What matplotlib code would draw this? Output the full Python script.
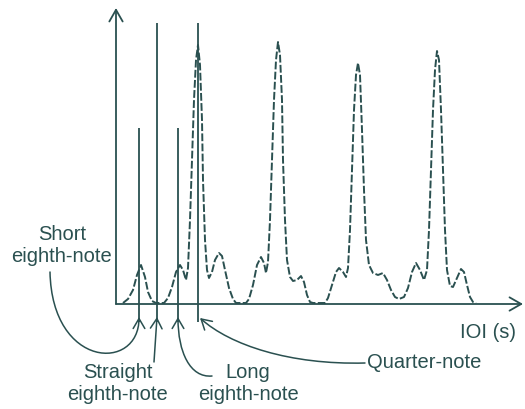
import matplotlib.pyplot as plt
from matplotlib.patches import FancyArrowPatch
from matplotlib.path import Path

plt.rcParams['font.family'] = ['Liberation Sans', 'DejaVu Sans']

# IOI histogram (IOI in ms, counts in arbitrary units)
ioi_ms = [42, 72, 102, 126, 150, 174, 192, 216, 240, 288,
          312, 336, 360, 384, 402, 420, 432, 444, 456, 468,
          480, 492, 504, 516, 522, 534, 546, 558, 576, 594,
          618, 636, 654, 678, 702, 720, 780, 798, 822, 846,
          870, 888, 900, 912, 924, 936, 948, 960, 972, 984,
          996, 1002, 1014, 1026, 1044, 1062, 1086, 1110, 1128, 1146,
          1164, 1182, 1254, 1272, 1296, 1320, 1338, 1362, 1380, 1392,
          1404, 1416, 1428, 1440, 1452, 1464, 1476, 1488, 1500, 1518,
          1542, 1572, 1602, 1626, 1650, 1674, 1698, 1728, 1752, 1776,
          1800, 1824, 1848, 1866, 1878, 1890, 1902, 1914, 1926, 1938,
          1950, 1962, 1974, 1986, 2004, 2022, 2046, 2070, 2088, 2106,
          2124, 2142, 2160]
counts = [0, 4, 13, 28, 38, 26, 11, 2, 0, 0,
          5, 16, 31, 38, 33, 23, 35, 83, 143, 203,
          243, 258, 238, 183, 123, 63, 33, 25, 31, 43,
          50, 47, 33, 15, 4, 0, 0, 4, 18, 38,
          46, 40, 30, 41, 83, 143, 203, 243, 261, 248,
          203, 143, 83, 43, 26, 22, 23, 27, 21, 8,
          1, 0, 0, 5, 18, 31, 35, 31, 26, 35,
          73, 133, 193, 228, 240, 228, 173, 113, 63, 38,
          30, 28, 30, 23, 13, 6, 4, 6, 15, 31,
          40, 33, 23, 33, 73, 133, 193, 233, 252, 243,
          193, 133, 73, 33, 17, 16, 25, 34, 31, 18,
          6, 1, 0]

# reference note durations (ms) and the height of their marker lines
note_labels = ['Short\neighth-note', 'Straight\neighth-note',
               'Long\neighth-note', 'Quarter-note']
note_ioi = [138, 246, 372, 492]
note_height = [175, 280, 175, 280]

ink = '#2a5050'

fig = plt.figure(figsize=(5.25, 4.09), dpi=100)
ax = fig.add_axes([116 / 525, 105 / 409, 407 / 525, 296 / 409])
ax.set_xlim(0, 2442)
ax.set_ylim(-1, 295)
ax.axis('off')

ax.plot(ioi_ms, counts, color=ink, lw=1.4, ls=(0, (4, 1.2)), clip_on=False)
ax.vlines(note_ioi, -19, note_height, color=ink, lw=1.3, clip_on=False)

# axis arrows
axis_arrow = dict(arrowstyle='->,head_length=0.7,head_width=0.4', color=ink,
                  lw=1.3, shrinkA=0, shrinkB=0, mutation_scale=12)
ax.annotate('', xy=(0, 1), xytext=(0, 0), xycoords='axes fraction',
            arrowprops=axis_arrow)
ax.annotate('', xy=(1, 0), xytext=(0, 0), xycoords='axes fraction',
            arrowprops=axis_arrow)
ax.text(2064, -29, 'IOI (s)', fontsize=14.5, color=ink, ha='left', va='center')

# label leader paths (data coords), ending just under each marker line
C3 = [Path.MOVETO, Path.CURVE4, Path.CURVE4, Path.CURVE4]
leaders = [
    ([(-396, 31), (-384, -66), (note_ioi[0], -69), (note_ioi[0], -14)], C3),
    ([(228, -59), (note_ioi[1], -14)], [Path.MOVETO, Path.LINETO]),
    ([(576, -73), (444, -75), (note_ioi[2], -49), (note_ioi[2], -14)], C3),
    ([(1494, -60), (1044, -62), (684, -42), (note_ioi[3] + 12, -15)], C3),
]
label_pos = [(-324, 57, 'center'), (12, -81, 'center'),
             (792, -81, 'center'), (1506, -60, 'left')]

for (verts, codes), (tx, ty, ha), label in zip(leaders, label_pos, note_labels):
    arrow = FancyArrowPatch(path=Path(verts, codes),
                            arrowstyle='->,head_length=0.6,head_width=0.35',
                            mutation_scale=12, color=ink, lw=1.1,
                            transform=ax.transData, clip_on=False)
    ax.add_patch(arrow)
    ax.text(tx, ty, label, fontsize=14.5, color=ink, ha=ha, va='center',
            multialignment='center', linespacing=1.2)

fig.savefig('out.png', dpi=100)
